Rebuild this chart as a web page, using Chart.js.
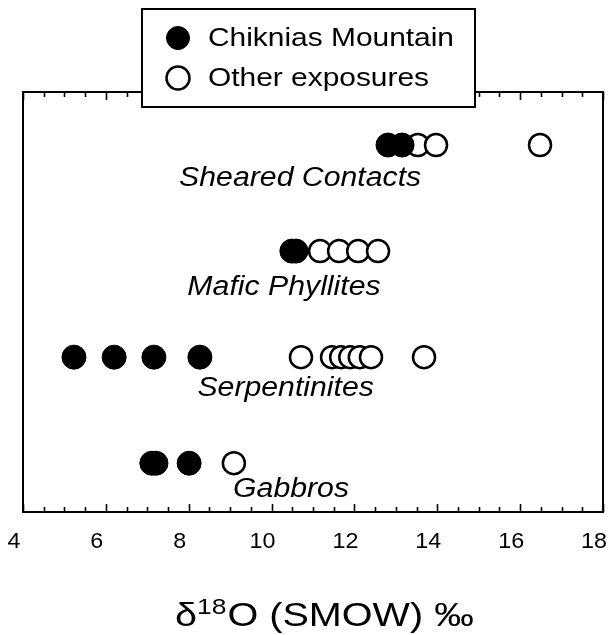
<!DOCTYPE html>
<html>
<head>
<meta charset="utf-8">
<script src="https://cdn.jsdelivr.net/npm/chart.js@4.4.1/dist/chart.umd.min.js"></script>
<style>
    html, body { margin: 0; padding: 0; background: #fff; }
    canvas { display: block; }
</style>
</head>
<body>
<canvas id="isoChart" width="608" height="635"></canvas>
<script>
// Rows, bottom to top (y index = position in this list)
const categories = ['Gabbros', 'Serpentinites', 'Mafic Phyllites', 'Sheared Contacts'];

// d18O values, Chiknias Mountain (filled) per row
const chikniasValues = [
    [7.11, 7.21, 8.01],
    [5.23, 6.20, 7.16, 8.27],
    [10.49, 10.59],
    [12.81, 13.15]
];

// d18O values, other exposures (open) per row
const otherValues = [
    [9.09],
    [10.71, 11.46, 11.68, 11.90, 12.13, 12.40, 13.68],
    [11.17, 11.63, 12.09, 12.57],
    [13.53, 13.97, 16.48]
];

const xTicks = [4, 6, 8, 10, 12, 14, 16, 18];
const seriesNames = ['Chiknias Mountain', 'Other exposures'];

const FONT = '"Liberation Sans", Arial, Helvetica, sans-serif';

function toPoints(rows) {
    const pts = [];
    rows.forEach((vals, row) => {
        vals.forEach(v => pts.push({ x: v, y: row }));
    });
    return pts;
}

// the scanned figure is a bit wider than tall, so text gets stretched
function stretchText(ctx, text, x, y, font, sx, align) {
    ctx.save();
    ctx.font = font;
    ctx.textAlign = align || 'left';
    ctx.translate(x, y);
    ctx.scale(sx, 1);
    ctx.fillText(text, 0, 0);
    const w = ctx.measureText(text).width * sx;
    ctx.restore();
    return w;
}

// where each row name sits (x value, pixel offset below the row)
const rowLabelPos = [
    { x: 10.47, dy: 26 },
    { x: 10.34, dy: 31 },
    { x: 10.30, dy: 36 },
    { x: 10.69, dy: 33 }
];

const framePlugin = {
    id: 'frame',
    beforeDatasetsDraw(chart) {
        const { ctx, chartArea: a, scales: { x, y } } = chart;
        ctx.save();
        ctx.strokeStyle = '#000';
        ctx.lineWidth = 2;
        ctx.strokeRect(a.left, a.top, a.right - a.left, a.bottom - a.top);

        // inward ticks, top and bottom
        ctx.lineWidth = 1.6;
        for (let v = x.min; v <= x.max + 1e-6; v += 0.5) {
            const px = Math.round(x.getPixelForValue(v)) + 0.5;
            const len = (Math.abs(v % 2) < 1e-6) ? 8 : 5;
            ctx.beginPath();
            ctx.moveTo(px, a.bottom);
            ctx.lineTo(px, a.bottom - len);
            ctx.moveTo(px, a.top);
            ctx.lineTo(px, a.top + len);
            ctx.stroke();
        }

        ctx.fillStyle = '#000';
        ctx.textBaseline = 'middle';

        // tick labels (printed a little left of their ticks in the original)
        xTicks.forEach(v => {
            stretchText(ctx, String(v), x.getPixelForValue(v) - 9, a.bottom + 30,
                '22px ' + FONT, 1.06, 'center');
        });

        // row names
        categories.forEach((name, i) => {
            const p = rowLabelPos[i];
            stretchText(ctx, name, x.getPixelForValue(p.x), y.getPixelForValue(i) + p.dy,
                'italic 27px ' + FONT, 1.12, 'center');
        });
        ctx.restore();
    },
    afterDatasetsDraw(chart) {
        const { ctx } = chart;
        ctx.save();

        // legend box
        ctx.fillStyle = '#fff';
        ctx.fillRect(142, 9, 333, 98);
        ctx.strokeStyle = '#000';
        ctx.lineWidth = 2;
        ctx.strokeRect(142, 9, 333, 98);

        const ds = chart.data.datasets;
        [38, 78].forEach((cy, i) => {
            ctx.beginPath();
            ctx.arc(178, cy, 11.5, 0, Math.PI * 2);
            ctx.fillStyle = ds[i].backgroundColor;
            ctx.fill();
            ctx.lineWidth = ds[i].borderWidth;
            ctx.strokeStyle = '#000';
            ctx.stroke();
            ctx.fillStyle = '#000';
            ctx.textBaseline = 'middle';
            stretchText(ctx, seriesNames[i], 208, cy + 1, '26px ' + FONT, 1.15, 'left');
        });

        // axis title with superscript
        ctx.fillStyle = '#000';
        ctx.textBaseline = 'alphabetic';
        let tx = 175;
        const base = 626;
        tx += stretchText(ctx, '\u03b4', tx, base, '33px ' + FONT, 1.2);
        tx += stretchText(ctx, '18', tx, base - 12, '22px ' + FONT, 1.2) + 1;
        stretchText(ctx, 'O (SMOW) \u2030', tx, base, '33px ' + FONT, 1.2);
        ctx.restore();
    }
};

new Chart(document.getElementById('isoChart'), {
    type: 'scatter',
    data: {
        datasets: [{
            label: seriesNames[0],
            data: toPoints(chikniasValues),
            backgroundColor: '#000',
            borderColor: '#000',
            borderWidth: 1,
            pointRadius: 12,
            pointHoverRadius: 12
        }, {
            label: seriesNames[1],
            data: toPoints(otherValues),
            backgroundColor: '#fff',
            borderColor: '#000',
            borderWidth: 2.5,
            pointRadius: 11,
            pointHoverRadius: 11
        }]
    },
    options: {
        responsive: false,
        animation: false,
        devicePixelRatio: 1,
        layout: {
            autoPadding: false,
            padding: { left: 23, right: 5, top: 92, bottom: 0 }
        },
        plugins: {
            legend: { display: false },
            tooltip: { enabled: false }
        },
        scales: {
            x: {
                type: 'linear',
                min: 4,
                max: 18,
                grid: { display: false, drawTicks: false },
                border: { display: false },
                ticks: { display: false, stepSize: 2 },
                afterFit: (scale) => {
                    scale.height = 123;
                }
            },
            y: {
                display: false,
                min: -0.46,
                max: 3.5
            }
        }
    },
    plugins: [framePlugin]
});
</script>
</body>
</html>
